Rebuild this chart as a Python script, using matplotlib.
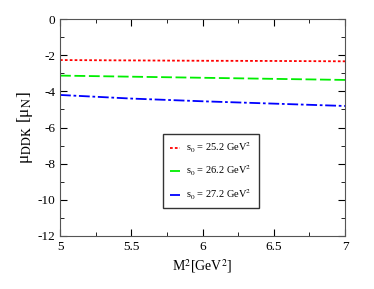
import matplotlib
matplotlib.use("Agg")
import matplotlib.pyplot as plt
from matplotlib.ticker import MultipleLocator, FuncFormatter

plt.rcParams['font.family'] = ['Liberation Serif', 'DejaVu Serif']
plt.rcParams['mathtext.fontset'] = 'stix'
plt.rcParams['axes.unicode_minus'] = False

# data
M2 = [5.0, 5.5, 6.0, 6.5, 7.0]
mu_252 = [-2.27, -2.29, -2.31, -2.32, -2.34]
mu_262 = [-3.13, -3.19, -3.25, -3.31, -3.37]
mu_272 = [-4.20, -4.40, -4.55, -4.68, -4.81]
labels = [r's$_0$ = 25.2 GeV$^2$', r's$_0$ = 26.2 GeV$^2$',
          r's$_0$ = 27.2 GeV$^2$']

fig = plt.figure(figsize=(3.74, 2.89), dpi=100)
ax = fig.add_axes([60 / 374, 1 - 236 / 289, 285 / 374, 217 / 289])

ax.plot(M2, mu_252, color='red', ls=(0, (1.5, 1.2)), lw=1.3, label=labels[0])
ax.plot(M2, mu_262, color='#00ee00', ls=(0, (6, 2)), lw=1.3, label=labels[1])
ax.plot(M2, mu_272, color='blue', ls=(0, (6, 1.5, 1.5, 1.5)), lw=1.3, label=labels[2])

ax.set_xlim(5, 7)
ax.set_ylim(-12, 0)
ax.xaxis.set_major_locator(MultipleLocator(0.5))
ax.xaxis.set_minor_locator(MultipleLocator(0.25))
ax.yaxis.set_major_locator(MultipleLocator(2))
ax.yaxis.set_minor_locator(MultipleLocator(1))
fmt = FuncFormatter(lambda v, p: ('%g' % v))
ax.xaxis.set_major_formatter(fmt)
ax.yaxis.set_major_formatter(fmt)
ax.tick_params(which='both', direction='in', top=True, right=True, labelsize=9.5)
ax.tick_params(which='major', length=5)
ax.tick_params(which='minor', length=3)
for s in ax.spines.values():
    s.set_color('#555555')

ax.set_xlabel(r'M$^2$[GeV$^2$]', fontsize=10, labelpad=3)
ax.set_ylabel('μ$_{\\mathrm{DDK}}$ [μ$_{\\mathrm{N}}$]', fontsize=12.5, labelpad=2)

leg = ax.legend(loc='upper left', bbox_to_anchor=(0.361, 0.47), fontsize=7.5,
                frameon=True, fancybox=False, handlelength=1.0,
                labelspacing=0.85, borderpad=0.65, handletextpad=0.6,
                borderaxespad=0)
leg.get_frame().set_edgecolor('black')
leg.get_frame().set_linewidth(1.0)

fig.savefig('out.png', dpi=100)
